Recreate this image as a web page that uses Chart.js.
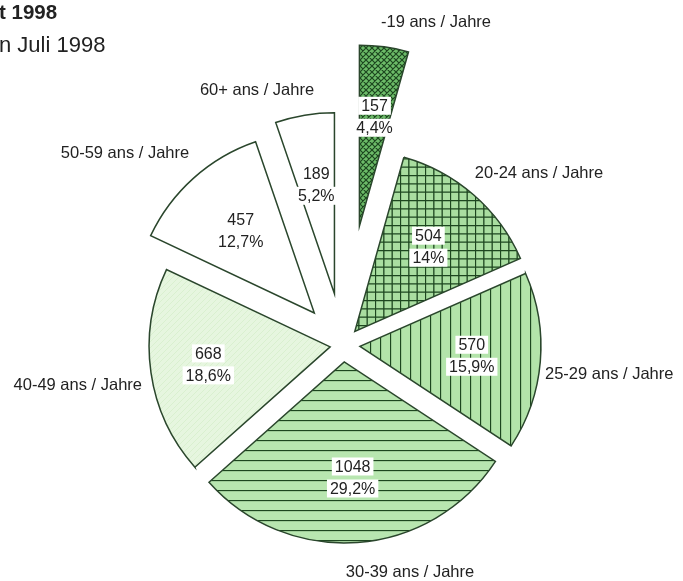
<!DOCTYPE html>
<html>
<head>
<meta charset="utf-8">
<title>Ages 1998</title>
<script src="https://cdn.jsdelivr.net/npm/chart.js@4.4.0/dist/chart.umd.min.js"></script>
<style>
  html, body { margin: 0; padding: 0; background: #fff; }
  #wrap { width: 683px; height: 581px; }
</style>
</head>
<body>
<div id="wrap"><canvas id="ageChart" width="683" height="581"></canvas></div>
<script>
// data
const ageGroups = ['-19 ans / Jahre', '20-24 ans / Jahre', '25-29 ans / Jahre', '30-39 ans / Jahre',
                   '40-49 ans / Jahre', '50-59 ans / Jahre', '60+ ans / Jahre'];
const counts = [157, 504, 570, 1048, 668, 457, 189];
const shares = ['4,4%', '14%', '15,9%', '29,2%', '18,6%', '12,7%', '5,2%'];
const titleLines = ['t 1998', 'n Juli 1998'];

// layout (not data): how far each slice is pulled out, where the inner labels sit, outer label spots
const explode = [120, 18, 17, 17, 13, 43, 52];
const innerFrac = [0.61, 0.62, 0.62, 0.64, 0.68, 0.61, 0.61];
const outerSpots = [
    {x: 436, y: 22, align: 'center'},
    {x: 539, y: 173, align: 'center'},
    {x: 545, y: 374, align: 'left'},
    {x: 410, y: 572, align: 'center'},
    {x: 142, y: 385, align: 'right'},
    {x: 125, y: 153, align: 'center'},
    {x: 257, y: 90, align: 'center'}
];

const FONT = '"Liberation Sans", Arial, Helvetica, sans-serif';
const INK = '#1d461f';
const TEXT = '#222222';

function makePattern(size, bg, draw) {
    const c = document.createElement('canvas');
    c.width = size;
    c.height = size;
    const g = c.getContext('2d');
    g.fillStyle = bg;
    g.fillRect(0, 0, size, size);
    g.strokeStyle = INK;
    g.lineWidth = 1.3;
    draw(g, size);
    return g.createPattern(c, 'repeat');
}

const crossHatch = makePattern(6, '#6cbb68', (g, s) => {
    g.lineWidth = 1.2;
    g.beginPath();
    for (let k = -1; k <= 1; k++) {
        g.moveTo(k * s, 0); g.lineTo(k * s + s, s);
        g.moveTo(k * s, s); g.lineTo(k * s + s, 0);
    }
    g.stroke();
});
const grid = makePattern(25, '#a9dea0', (g, s) => {
    g.beginPath();
    for (let k = 0; k < 3; k++) {
        const p = k * s / 3 + 0.5;
        g.moveTo(p, 0); g.lineTo(p, s);
        g.moveTo(0, p); g.lineTo(s, p);
    }
    g.stroke();
});
const verticals = makePattern(10, '#b3e4aa', (g, s) => {
    g.beginPath();
    g.moveTo(0.5, 0); g.lineTo(0.5, s);
    g.stroke();
});
const horizontals = makePattern(10, '#b8e6b0', (g, s) => {
    g.beginPath();
    g.moveTo(0, 0.5); g.lineTo(s, 0.5);
    g.stroke();
});
const paleGreen = makePattern(6, '#e6f6df', (g, s) => {
    g.strokeStyle = '#d9f0cf';
    g.lineWidth = 1;
    g.beginPath();
    for (let k = -1; k <= 1; k++) {
        g.moveTo(k * s, s); g.lineTo(k * s + s, 0);
    }
    g.stroke();
});

const sliceFills = [crossHatch, grid, verticals, horizontals, paleGreen, '#ffffff', '#ffffff'];

// pull every slice outwards along its own middle angle
const explodePlugin = {
    id: 'explode',
    afterDatasetsUpdate(chart) {
        const meta = chart.getDatasetMeta(0);
        meta.data.forEach((arc, i) => {
            const mid = (arc.startAngle + arc.endAngle) / 2;
            arc.x += Math.cos(mid) * explode[i];
            arc.y += Math.sin(mid) * explode[i];
        });
    }
};

const labelPlugin = {
    id: 'sliceLabels',
    afterDatasetsDraw(chart) {
        const ctx = chart.ctx;
        const meta = chart.getDatasetMeta(0);
        ctx.save();
        ctx.textAlign = 'center';
        ctx.textBaseline = 'middle';
        ctx.font = '16px ' + FONT;
        meta.data.forEach((arc, i) => {
            const mid = (arc.startAngle + arc.endAngle) / 2;
            const r = arc.outerRadius * innerFrac[i];
            const x = arc.x + Math.cos(mid) * r;
            const y = arc.y + Math.sin(mid) * r;
            const lines = [String(counts[i]), shares[i]];
            lines.forEach((txt, j) => {
                const ly = y + (j - 0.5) * 22;
                const w = ctx.measureText(txt).width;
                ctx.fillStyle = '#ffffff';
                ctx.fillRect(x - w / 2 - 3, ly - 9, w + 6, 18);
                ctx.fillStyle = TEXT;
                ctx.fillText(txt, x, ly + 1);
            });
        });

        // category names round the pie
        ctx.font = '16.5px ' + FONT;
        ctx.fillStyle = TEXT;
        ageGroups.forEach((name, i) => {
            const s = outerSpots[i];
            ctx.textAlign = s.align;
            ctx.fillText(name, s.x, s.y);
        });

        // title, cut off at the left edge as in the scan
        ctx.textAlign = 'left';
        ctx.textBaseline = 'alphabetic';
        ctx.font = 'bold 20.5px ' + FONT;
        ctx.fillText(titleLines[0], -1, 19);
        ctx.font = '22px ' + FONT;
        ctx.fillText(titleLines[1], -1, 52);
        ctx.restore();
    }
};

new Chart(document.getElementById('ageChart'), {
    type: 'pie',
    data: {
        labels: ageGroups,
        datasets: [{
            data: counts,
            backgroundColor: sliceFills,
            borderColor: '#2a462c',
            borderWidth: 1.5,
            borderJoinStyle: 'miter',
            clip: false
        }]
    },
    options: {
        responsive: false,
        animation: false,
        events: [],
        radius: 181,
        layout: {
            padding: {left: 3, right: 0, top: 109, bottom: 0}
        },
        plugins: {
            legend: {display: false},
            title: {display: false},
            tooltip: {enabled: false}
        }
    },
    plugins: [explodePlugin, labelPlugin]
});
</script>
</body>
</html>
